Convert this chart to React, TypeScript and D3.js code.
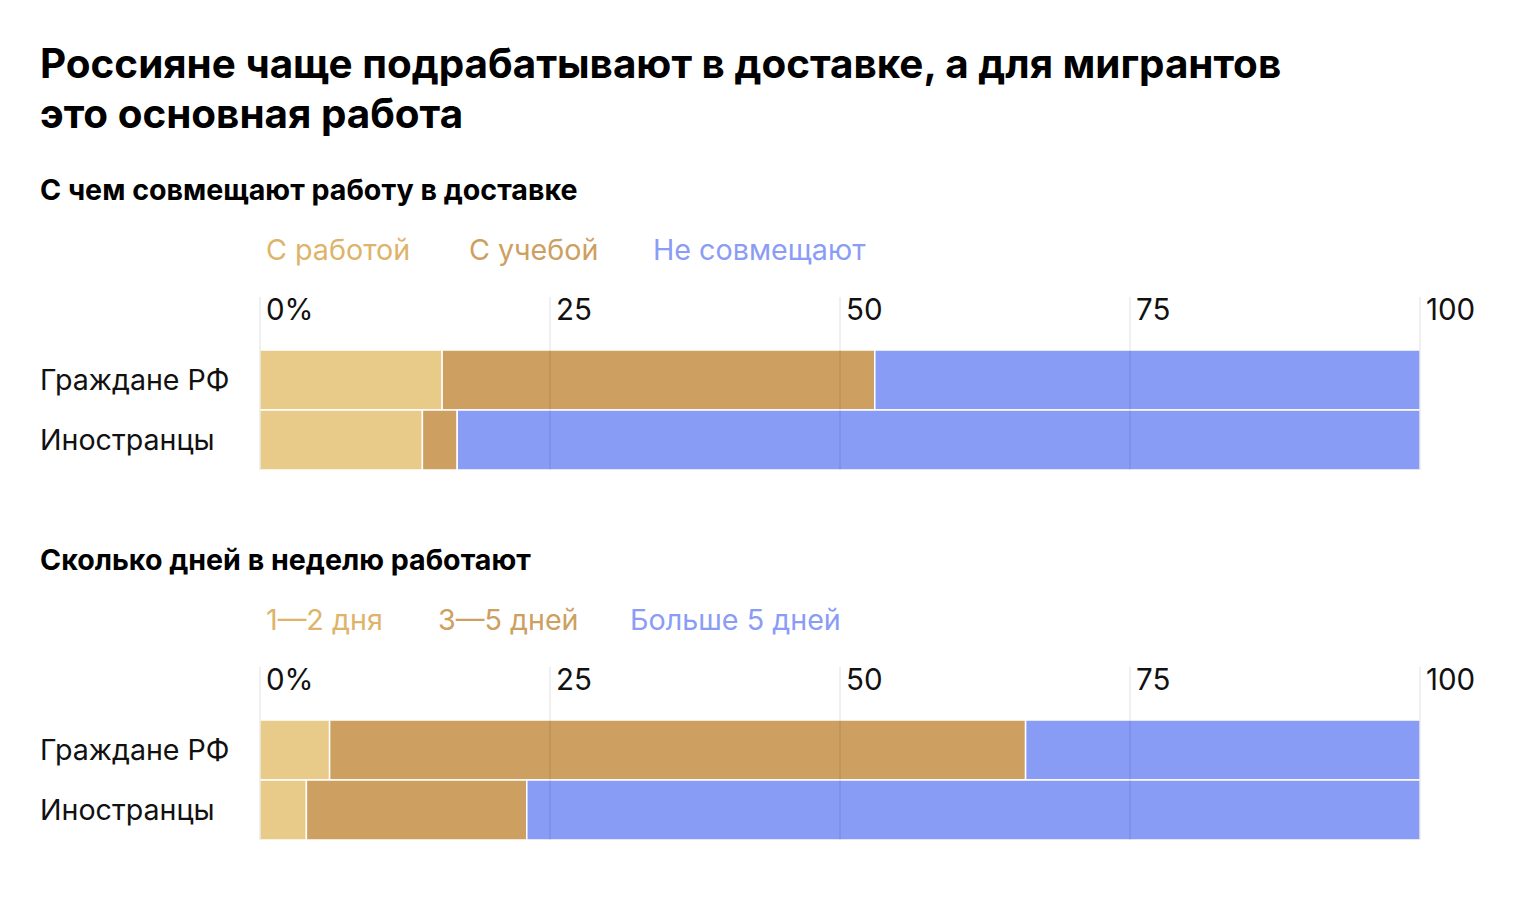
import React from 'react';
import * as d3 from 'd3';

// rows of both panels
const groups = ['Граждане РФ', 'Иностранцы'];

// panel 1: what delivery work is combined with (% of respondents)
const combineKeys = ['С работой', 'С учебой', 'Не совмещают'];
const combineWork = [15.7, 14];
const combineStudy = [37.3, 3];
const combineNone = [47, 83];

// panel 2: days per week
const daysKeys = ['1—2 дня', '3—5 дней', 'Больше 5 дней'];
const daysFew = [6, 4];
const daysMid = [60, 19];
const daysMany = [34, 77];

const ticks = [0, 25, 50, 75, 100];
const tickLabels = ['0%', '25', '50', '75', '100'];

const barColors = ['#E9CB89', '#CDA061', '#889CF6'];
const legendColors = ['#DDB46A', '#CDA061', '#8A9CF5'];

const FONT = 'Inter, "Noto Sans", sans-serif';

const W = 1520;
const H = 900;

const x = d3.scaleLinear().domain([0, 100]).range([260, 1420]);

interface PanelProps {
  top: number;
  title: string;
  keys: string[];
  series: number[][];
  legendX: number[];
}

const Panel: React.FC<PanelProps> = ({ top, title, keys, series, legendX }) => {
  const rows = groups.map((g, i) => {
    const r: Record<string, any> = { group: g };
    keys.forEach((k, j) => (r[k] = series[j][i]));
    return r;
  });
  const stacked = d3.stack<Record<string, any>>().keys(keys)(rows);

  const y = d3.scaleBand<string>()
    .domain(groups)
    .range([top + 150, top + 270])
    .paddingInner(0);

  return (
    <g>
      <text x={40} y={top} fontFamily={FONT} fontWeight={700} fontSize={28.6} fill="#000">
        {title}
      </text>
      {keys.map((k, i) => (
        <text key={k} x={legendX[i]} y={top + 60} fontFamily={FONT} fontSize={28.7} fill={legendColors[i]}>
          {k}
        </text>
      ))}
      {ticks.map((t, i) => (
        <text key={t} x={x(t) + 6} y={top + 120} fontFamily={FONT} fontSize={29.5} fill="#111">
          {tickLabels[i]}
        </text>
      ))}
      {groups.map(g => (
        <text key={g} x={40} y={(y(g) ?? 0) + y.bandwidth() / 2 + 10} fontFamily={FONT} fontSize={28.6} fill="#111">
          {g}
        </text>
      ))}
      {stacked.map((s, si) => (
        <g key={s.key} fill={barColors[si]}>
          {s.map(d => (
            <rect
              key={d.data.group}
              x={x(d[0])}
              y={y(d.data.group)}
              width={x(d[1]) - x(d[0])}
              height={y.bandwidth()}
              stroke="#fff"
              strokeWidth={1.5}
            />
          ))}
        </g>
      ))}
      {ticks.map(t => (
        <line
          key={t}
          x1={x(t)}
          x2={x(t)}
          y1={top + 97}
          y2={top + 270}
          stroke="#000"
          strokeOpacity={0.08}
          strokeWidth={1.5}
        />
      ))}
    </g>
  );
};

const App: React.FC = () => {
  return (
    <svg width={W} height={H} style={{ display: 'block', margin: -8, background: '#fff' }}>
      <text fontFamily={FONT} fontWeight={700} fontSize={40.4} fill="#000">
        <tspan x={40} y={78}>Россияне чаще подрабатывают в доставке, а для мигрантов</tspan>
        <tspan x={40} y={128}>это основная работа</tspan>
      </text>
      <Panel
        top={200}
        title="С чем совмещают работу в доставке"
        keys={combineKeys}
        series={[combineWork, combineStudy, combineNone]}
        legendX={[266, 469, 653]}
      />
      <Panel
        top={570}
        title="Сколько дней в неделю работают"
        keys={daysKeys}
        series={[daysFew, daysMid, daysMany]}
        legendX={[266, 438, 630]}
      />
    </svg>
  );
};

export default App;
